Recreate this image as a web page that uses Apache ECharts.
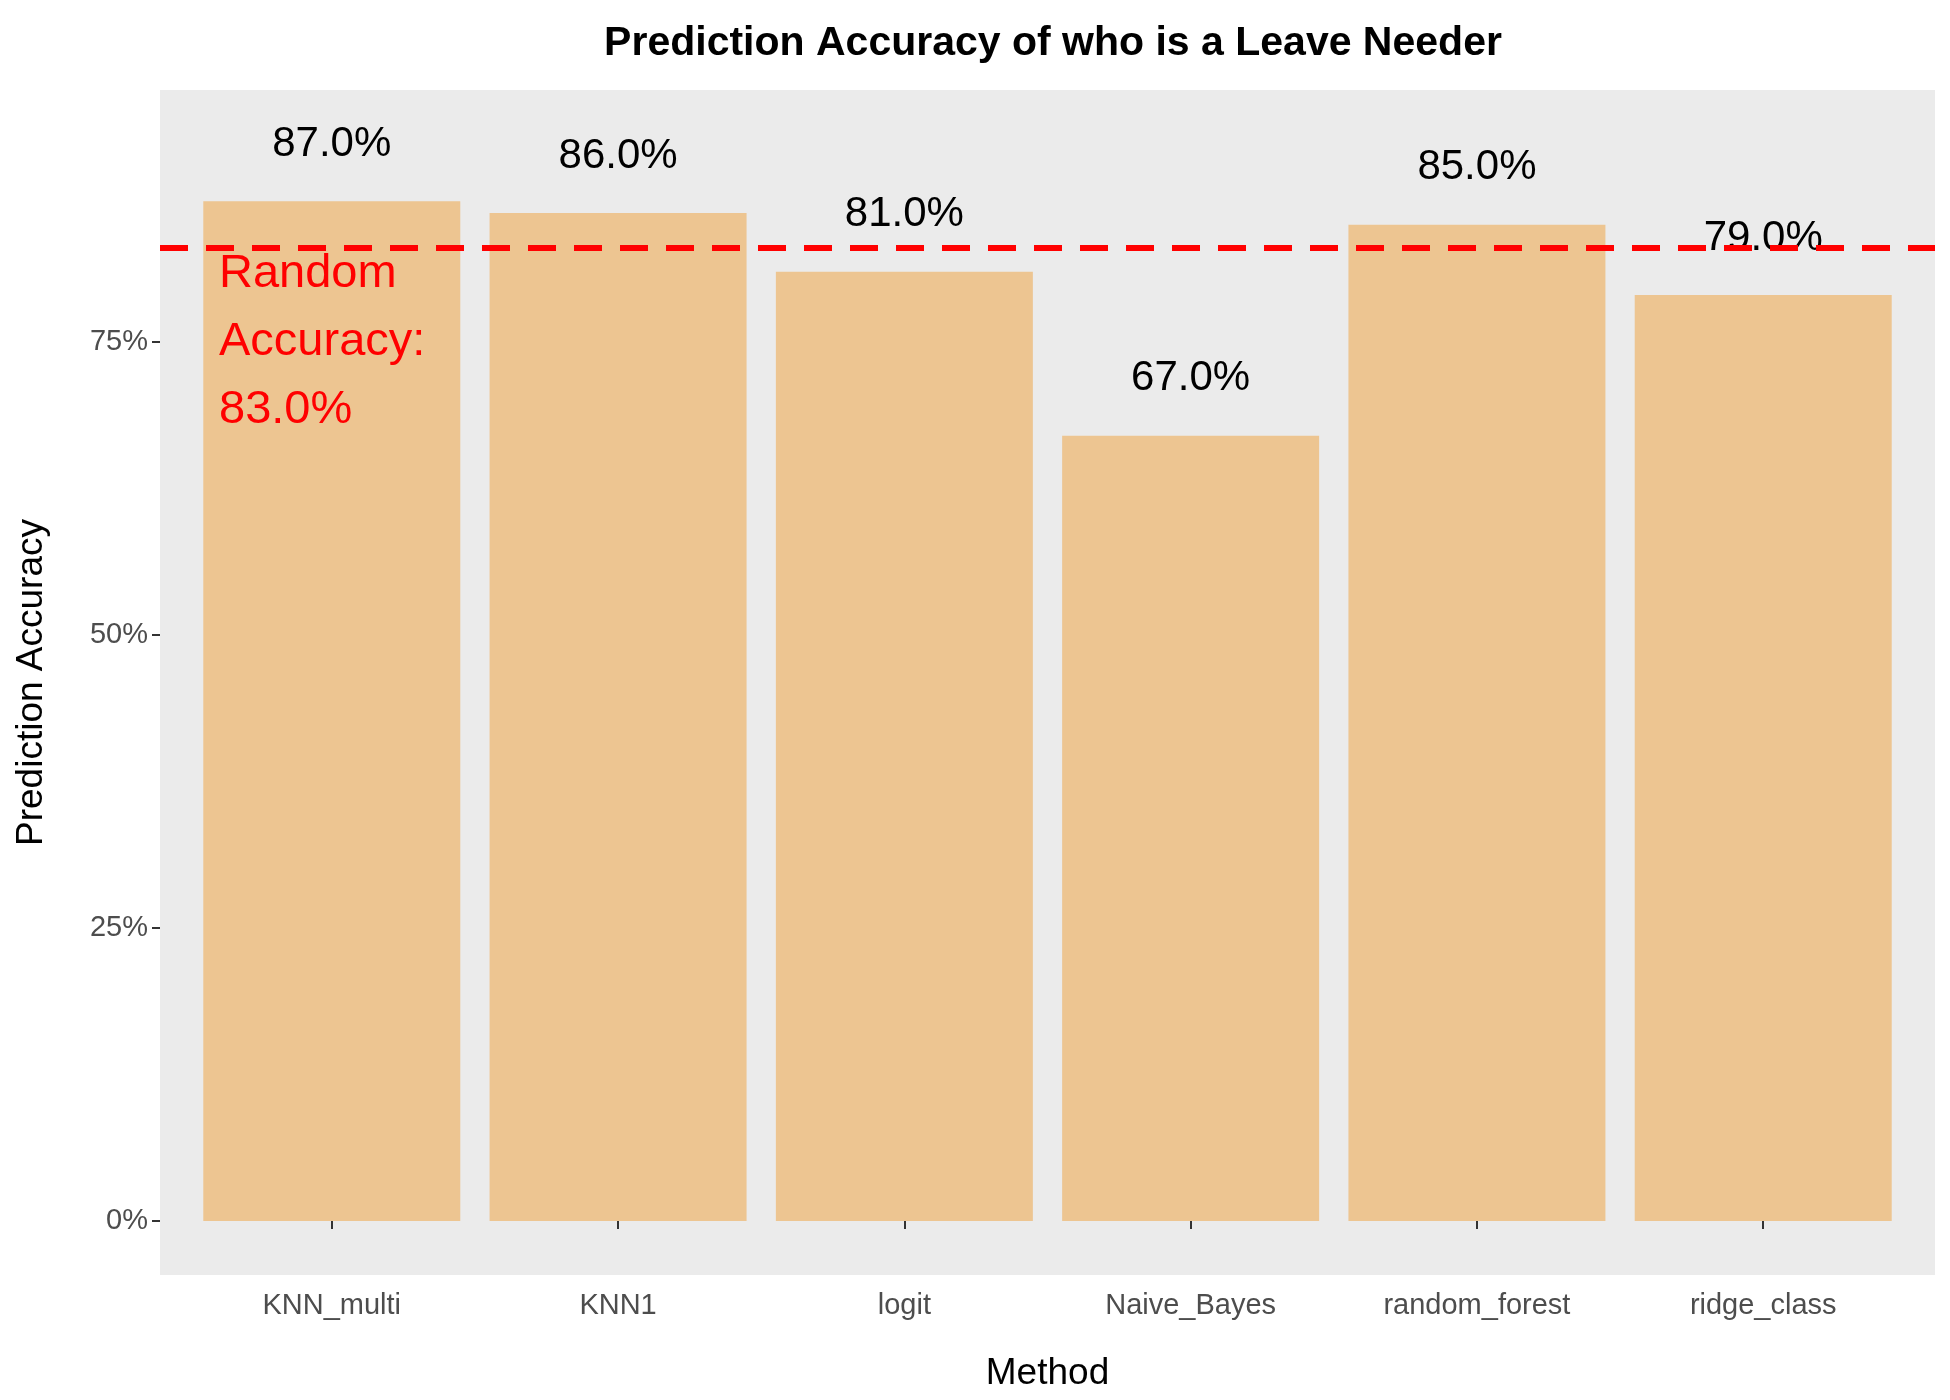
<!DOCTYPE html>
<html>
<head>
<meta charset="utf-8">
<script src="https://cdn.jsdelivr.net/npm/echarts@6/dist/echarts.min.js"></script>
<style>html,body{margin:0;padding:0;background:#fff}#chart{width:1950px;height:1400px}</style>
</head>
<body>
<div id="chart"></div>
<script>
var methods = ['KNN_multi', 'KNN1', 'logit', 'Naive_Bayes', 'random_forest', 'ridge_class'];
var accuracy = [87, 86, 81, 67, 85, 79];
var randomAccuracy = 83;
var yTicks = [0, 25, 50, 75];
var xTicks = [1, 2, 3, 4, 5, 6];

var font = '"Liberation Sans", Arial, sans-serif';
var barData = accuracy.map(function (v, i) { return [i + 1, v]; });

var option = {
    backgroundColor: '#fff',
    animation: false,
    title: {
        text: 'Prediction Accuracy of who is a Leave Needer',
        left: 1048, top: 18, textAlign: 'center',
        textStyle: {fontFamily: font, fontSize: 41, fontWeight: 'bold', color: '#000'}
    },
    grid: {left: 160, right: 15, top: 90, bottom: 125, outerBoundsMode: 'none', backgroundColor: '#ebebeb', show: true, borderWidth: 0},
    graphic: [
        {type: 'text', z: 10, left: 219, top: 240, style: {
            text: 'Random\nAccuracy:\n' + randomAccuracy.toFixed(1) + '%',
            fill: '#ff0000', font: '47px ' + font, lineHeight: 68
        }}
    ],
    xAxis: {
        type: 'value', min: 0.4, max: 6.6,
        name: 'Method', nameLocation: 'middle', nameGap: 80,
        nameTextStyle: {fontFamily: font, fontSize: 37, color: '#000'},
        splitLine: {show: false},
        axisLine: {show: false},
        axisTick: {show: true, length: 8, lineStyle: {color: '#333', width: 2}, customValues: xTicks},
        axisLabel: {
            customValues: xTicks, margin: 16,
            fontFamily: font, fontSize: 29, color: '#4d4d4d',
            formatter: function (v) { return methods[Math.round(v) - 1] || ''; }
        }
    },
    yAxis: {
        type: 'value', min: -4.6, max: 96.5,
        name: 'Prediction Accuracy', nameLocation: 'middle', nameGap: 110,
        nameTextStyle: {fontFamily: font, fontSize: 37, color: '#000'},
        splitLine: {show: false},
        axisLine: {show: false},
        axisTick: {show: true, length: 8, lineStyle: {color: '#333', width: 2}, customValues: yTicks},
        axisLabel: {
            customValues: yTicks, margin: 12,
            fontFamily: font, fontSize: 29, color: '#4d4d4d',
            formatter: '{value}%'
        }
    },
    series: [{
        type: 'bar',
        data: barData,
        barWidth: 257,
        itemStyle: {color: '#edc591'},
        label: {
            show: true, position: 'top', distance: 36,
            fontFamily: font, fontSize: 42, color: '#000',
            formatter: function (p) { return p.value[1].toFixed(1) + '%'; }
        },
        markLine: {
            symbol: 'none', silent: true, z: 20,
            label: {show: false},
            lineStyle: {color: '#ff0000', type: [28, 18], width: 6},
            data: [{yAxis: randomAccuracy}]
        }
    }]
};

var myChart = echarts.init(document.getElementById('chart'));
myChart.setOption(option);
</script>
</body>
</html>
